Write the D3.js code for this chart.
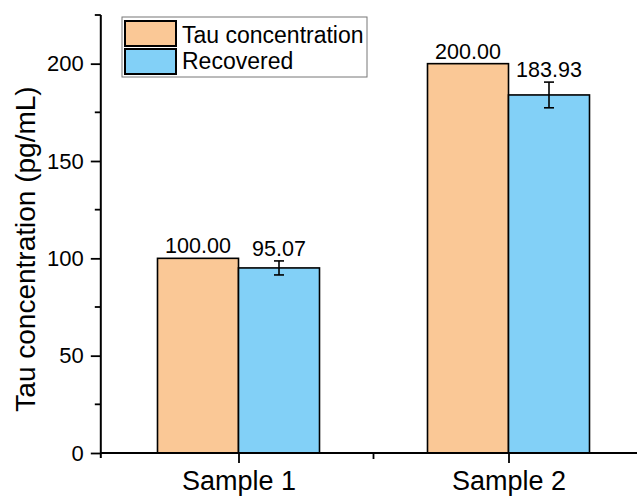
<!DOCTYPE html>
<html>
<head>
<meta charset="utf-8">
<script src="https://cdn.jsdelivr.net/npm/d3@7"></script>
<style>
  body { margin: 0; background: #fff; }
  svg { font-family: Arial, "Liberation Sans", sans-serif; }
</style>
</head>
<body>
<div class="chart"></div>
<script>
const width = 637;
const height = 497;

const samples = ['Sample 1', 'Sample 2'];
const seriesNames = ['Tau concentration', 'Recovered'];
const tauValues = [100.00, 200.00];
const recoveredValues = [95.07, 183.93];
const recoveredErr = [3.6, 6.6];
const yTicks = [0, 50, 100, 150, 200];
const yMinor = [25, 75, 125, 175, 225];
const colors = ['#fac896', '#82d0f7'];

const svg = d3.select('.chart').append('svg')
    .attr('width', width)
    .attr('height', height);

// category axis, starts just left of 0.5
const x = d3.scaleLinear().domain([0.49, 2.5]).range([100.8, 643.5]);
const y = d3.scaleLinear().domain([0, 225]).range([453, 15]);
const barW = x(1.3) - x(1);

var bars = [];
samples.forEach((s, i) => {
    bars.push({pos: i + 1, value: tauValues[i], series: 0, err: null});
    bars.push({pos: i + 1, value: recoveredValues[i], series: 1, err: recoveredErr[i]});
});

svg.selectAll('rect.bar')
  .data(bars)
  .enter().append('rect')
    .attr('class', 'bar')
    .attr('x', d => d.series === 0 ? x(d.pos) - barW : x(d.pos))
    .attr('y', d => y(d.value))
    .attr('width', barW)
    .attr('height', d => y(0) - y(d.value))
    .attr('fill', d => colors[d.series])
    .attr('stroke', '#000')
    .attr('stroke-width', 1.6);

// error bars
const errs = bars.filter(d => d.err !== null);
const eg = svg.selectAll('g.err').data(errs).enter().append('g')
    .attr('transform', d => `translate(${x(d.pos) + barW / 2},0)`)
    .attr('stroke', '#000')
    .attr('stroke-width', 1.6);
eg.append('line').attr('y1', d => y(d.value + d.err)).attr('y2', d => y(d.value - d.err));
eg.append('line').attr('x1', -5).attr('x2', 5).attr('y1', d => y(d.value + d.err)).attr('y2', d => y(d.value + d.err));
eg.append('line').attr('x1', -5).attr('x2', 5).attr('y1', d => y(d.value - d.err)).attr('y2', d => y(d.value - d.err));

// value labels
svg.selectAll('text.val')
  .data(bars)
  .enter().append('text')
    .attr('class', 'val')
    .attr('x', d => d.series === 0 ? x(d.pos) - barW / 2 : x(d.pos) + barW / 2)
    .attr('y', d => y(d.value + (d.err || 0)) - 5)
    .attr('text-anchor', 'middle')
    .attr('font-size', 21.5)
    .text(d => d.value.toFixed(2));

// y axis
const yAxis = svg.append('g')
    .attr('transform', `translate(${x(0.49)},0)`)
    .call(d3.axisLeft(y).tickValues(yTicks).tickSize(10).tickPadding(7).tickFormat(d3.format('d')));
yAxis.select('.domain').remove();
yAxis.selectAll('.tick line').attr('stroke-width', 1.8);
yAxis.selectAll('.tick text').attr('font-size', 22).attr('fill', '#000');
yAxis.selectAll('line.minor')
  .data(yMinor)
  .enter().append('line')
    .attr('class', 'minor')
    .attr('x1', -6).attr('x2', 0)
    .attr('y1', d => y(d)).attr('y2', d => y(d))
    .attr('stroke', '#000').attr('stroke-width', 1.8);
yAxis.append('line')
    .attr('y1', y(225)).attr('y2', y(0) + 5)
    .attr('stroke', '#000').attr('stroke-width', 2);

// x axis
const xAxis = svg.append('g')
    .attr('transform', `translate(0,${y(0)})`)
    .call(d3.axisBottom(x).tickValues([1, 2]).tickSize(10).tickPadding(8)
        .tickFormat(d => samples[d - 1]));
xAxis.select('.domain').remove();
xAxis.selectAll('.tick line').attr('stroke-width', 1.8);
xAxis.selectAll('.tick text').attr('font-size', 27).attr('fill', '#000');
xAxis.append('line')
    .attr('x1', x(1.5)).attr('x2', x(1.5)).attr('y1', 0).attr('y2', 6)
    .attr('stroke', '#000').attr('stroke-width', 1.8);
xAxis.append('line')
    .attr('x1', x(0.49)).attr('x2', width)
    .attr('stroke', '#000').attr('stroke-width', 2);

// y title
svg.append('text')
    .attr('transform', `translate(35,249) rotate(-90)`)
    .attr('text-anchor', 'middle')
    .attr('font-size', 28)
    .text('Tau concentration (pg/mL)');

// legend
const lg = svg.append('g');
lg.append('rect')
    .attr('x', 122).attr('y', 17).attr('width', 245).attr('height', 60)
    .attr('fill', '#fff').attr('stroke', '#777').attr('stroke-width', 1);
seriesNames.forEach((n, i) => {
    lg.append('rect')
        .attr('x', 125).attr('y', 21 + i * 28).attr('width', 51).attr('height', 25)
        .attr('fill', colors[i]).attr('stroke', '#000').attr('stroke-width', 2);
    lg.append('text')
        .attr('x', 182).attr('y', 43 + i * 25.5)
        .attr('font-size', 23)
        .text(n);
});
</script>
</body>
</html>
